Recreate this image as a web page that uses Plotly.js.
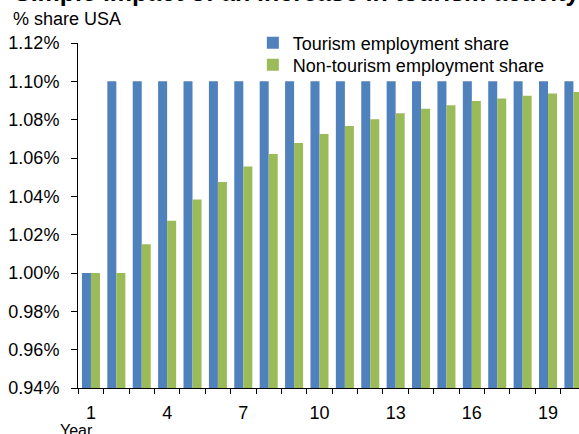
<!DOCTYPE html>
<html>
<head>
<meta charset="utf-8">
<script src="https://cdn.plot.ly/plotly-3.0.1.min.js"></script>
<style>
  html, body { margin: 0; padding: 0; overflow: hidden; background: #fff; }
  #chart { width: 579px; height: 434px; }
</style>
</head>
<body>
<div id="chart"></div>
<script>
// Data (values in % share)
const years = [1,2,3,4,5,6,7,8,9,10,11,12,13,14,15,16,17,18,19,20];
const tourismShare = [1.00,1.10,1.10,1.10,1.10,1.10,1.10,1.10,1.10,1.10,1.10,1.10,1.10,1.10,1.10,1.10,1.10,1.10,1.10,1.10];
const nonTourismShare = [1.00,1.00,1.015,1.0273,1.0384,1.0475,1.0555,1.0621,1.0678,1.0725,1.0767,1.0802,1.0833,1.0857,1.0875,1.0897,1.0911,1.0925,1.0937,1.0944];
const xTickVals = [1,4,7,10,13,16,19];
const yTickVals = [0.94,0.96,0.98,1.00,1.02,1.04,1.06,1.08,1.10,1.12];
const seriesNames = ['Tourism employment share', 'Non-tourism employment share'];
const titleText = 'Simple impact of an increase in tourism activity';
const yLabelText = '% share USA';
const xLabelText = 'Year';

const FONT = 'Liberation Sans, Arial, sans-serif';

const traces = [
  { type: 'bar', x: years, y: tourismShare, name: seriesNames[0], legend: 'legend',
    marker: { color: '#4F81BD', line: { width: 0 } } },
  { type: 'bar', x: years, y: nonTourismShare, name: seriesNames[1], legend: 'legend2',
    marker: { color: '#9BBB59', line: { width: 0 } } }
];

const legendBase = {
  xanchor: 'left', yanchor: 'top',
  bgcolor: 'rgba(0,0,0,0)', borderwidth: 0,
  font: { family: FONT, size: 18, color: '#000' }
};

const layout = {
  width: 579, height: 434,
  margin: { l: 78, r: 0, t: 43, b: 46, pad: 0 },
  paper_bgcolor: '#fff', plot_bgcolor: '#fff',
  font: { family: FONT, size: 18, color: '#000' },
  barmode: 'group', bargap: 0.29, bargroupgap: 0,
  showlegend: true,
  legend: Object.assign({}, legendBase, { x: 0.349, y: 1.0537 }),
  legend2: Object.assign({}, legendBase, { x: 0.349, y: 0.9899 }),
  xaxis: {
    type: 'linear', range: [0.49, 20.22],
    showgrid: false, zeroline: false,
    showline: true, linecolor: '#000', linewidth: 1,
    tickmode: 'array', tickvals: xTickVals, ticktext: xTickVals.map(String),
    ticks: 'outside', ticklen: 0, tickcolor: '#000',
    ticklabelstandoff: 8,
    minor: { ticks: 'outside', ticklen: 5, tick0: 0.5, dtick: 1, tickcolor: '#000', tickwidth: 1, showgrid: false },
    tickfont: { family: FONT, size: 18, color: '#000' },
    fixedrange: true
  },
  yaxis: {
    range: [0.94, 1.12],
    showgrid: false, zeroline: false,
    showline: true, linecolor: '#000', linewidth: 1,
    tickmode: 'array', tickvals: yTickVals,
    ticktext: yTickVals.map(v => v.toFixed(2) + '%'),
    ticks: 'outside', ticklen: 6, tickcolor: '#000',
    ticklabelstandoff: 8,
    tickfont: { family: FONT, size: 18, color: '#000' },
    fixedrange: true
  },
  annotations: [
    { text: '<b>' + titleText + '</b>', xref: 'paper', yref: 'paper',
      x: -0.1317, y: 1.1466, xanchor: 'left', yanchor: 'middle', showarrow: false,
      font: { family: FONT, size: 25, color: '#000' } },
    { text: yLabelText, xref: 'paper', yref: 'paper',
      x: -0.1337, y: 1.071, xanchor: 'left', yanchor: 'middle', showarrow: false,
      font: { family: FONT, size: 18, color: '#000' } },
    { text: xLabelText, xref: 'paper', yref: 'paper',
      x: -0.002, y: -0.122, xanchor: 'center', yanchor: 'middle', showarrow: false,
      font: { family: FONT, size: 16, color: '#000' } }
  ]
};

Plotly.newPlot('chart', traces, layout, { displayModeBar: false, staticPlot: true });
</script>
</body>
</html>
